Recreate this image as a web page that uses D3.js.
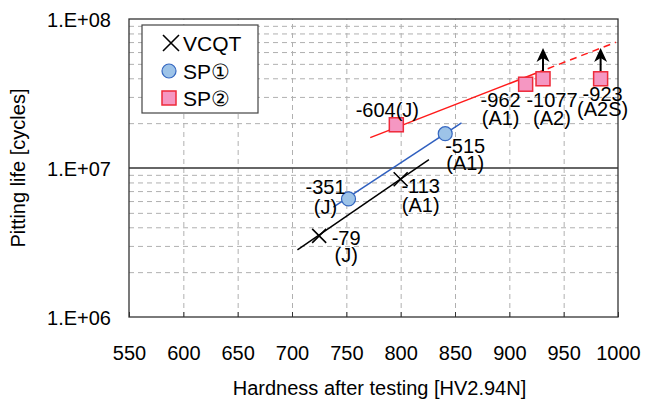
<!DOCTYPE html>
<html>
<head>
<meta charset="utf-8">
<script src="https://cdn.jsdelivr.net/npm/d3@7"></script>
<style>
  body { margin: 0; background: #fff; }
  text { font-family: "Liberation Sans", Arial, sans-serif; fill: #000; }
</style>
</head>
<body>
<div id="chart"></div>
<script>
// ---------- DATA ----------
var xTicks = [550, 600, 650, 700, 750, 800, 850, 900, 950, 1000]
var yTicks = [1e6, 1e7, 1e8]
var yTickLabels = ['1.E+06', '1.E+07', '1.E+08']

var seriesNames = ['VCQT', 'SP\u2460', 'SP\u2461']

// hardness, pitting life
var vcqtHv = [725, 800]
var vcqtLife = [3.5e6, 8.4e6]
var vcqtLabels = [['-79', '(J)'], ['-113', '(A1)']]

var sp1Hv = [752, 841]
var sp1Life = [6.2e6, 1.7e7]
var sp1Labels = [['-351', '(J)'], ['-515', '(A1)']]

var sp2Hv = [796, 915, 931, 984]
var sp2Life = [1.95e7, 3.65e7, 3.97e7, 3.97e7]
var sp2Labels = [['-604(J)'], ['-962', '(A1)'], ['-1077', '(A2)'], ['-923', '(A2S)']]
var sp2Runout = [false, false, true, true]   // still running -> arrow up
var arrowTopLife = 6.4e7

// fitted lines (end points)
var vcqtFitHv = [705, 826]
var vcqtFitLife = [2.82e6, 1.14e7]
var sp1FitHv = [738, 856]
var sp1FitLife = [5.47e6, 2.01e7]
var sp2FitHv = [772, 925]
var sp2FitLife = [1.6e7, 4.34e7]
var sp2ExtHv = [925, 998]
var sp2ExtLife = [4.34e7, 6.98e7]

// ---------- LAYOUT ----------
var W = 645, H = 401
var pL = 129, pR = 618, pT = 19, pB = 317

var svg = d3.select('#chart').append('svg')
    .attr('width', W)
    .attr('height', H)

var x = d3.scaleLinear().domain([550, 1000]).range([pL, pR])
var y = d3.scaleLog().domain([1e6, 1e8]).range([pB, pT])

var gridColor = '#b0b0b0'

// minor horizontal grid (2..9 in each decade)
var minorY = []
;[1e6, 1e7].forEach(function(d){
    for (var k = 2; k <= 9; k++) minorY.push(d * k)
})
svg.append('g')
    .attr('transform', 'translate(' + pL + ',0)')
    .call(d3.axisLeft(y).tickValues(minorY).tickSize(-(pR - pL)).tickFormat(''))
    .call(function(g){
        g.select('.domain').remove()
        g.selectAll('line').attr('stroke', gridColor).attr('stroke-dasharray', '5,4')
    })

// vertical grid
svg.append('g')
    .attr('transform', 'translate(0,' + pB + ')')
    .call(d3.axisBottom(x).tickValues(xTicks.slice(1, -1)).tickSize(-(pB - pT)).tickFormat(''))
    .call(function(g){
        g.select('.domain').remove()
        g.selectAll('line').attr('stroke', gridColor).attr('stroke-dasharray', '5,4')
    })

// major line at 1e7
svg.append('line')
    .attr('x1', pL).attr('x2', pR)
    .attr('y1', y(1e7)).attr('y2', y(1e7))
    .attr('stroke', '#333').attr('stroke-width', 1.3)

// x axis: inward ticks, labels
var xAxis = svg.append('g')
    .attr('transform', 'translate(0,' + pB + ')')
    .call(d3.axisBottom(x).tickValues(xTicks).tickSize(-5).tickPadding(0).tickFormat(d3.format('d')))
xAxis.select('.domain').remove()
xAxis.selectAll('line').attr('stroke', '#333')
xAxis.selectAll('text')
    .attr('y', 43).attr('dy', 0)
    .style('font-size', '20px')
    .attr('font-family', null)

// y axis labels
var yAxis = svg.append('g')
    .attr('transform', 'translate(' + pL + ',0)')
    .call(d3.axisLeft(y).tickValues(yTicks).tickSize(0)
        .tickFormat(function(d, i){ return yTickLabels[i] }))
yAxis.select('.domain').remove()
yAxis.selectAll('text')
    .attr('x', -18).attr('dy', '0.36em')
    .style('font-size', '20px')
    .attr('font-family', null)

// plot frame
svg.append('rect')
    .attr('x', pL).attr('y', pT)
    .attr('width', pR - pL).attr('height', pB - pT)
    .attr('fill', 'none').attr('stroke', '#333').attr('stroke-width', 1.3)

// axis titles
svg.append('text')
    .attr('x', (pL + pR) / 2 + 6).attr('y', 395)
    .attr('text-anchor', 'middle')
    .style('font-size', '20px')
    .text('Hardness after testing [HV2.94N]')

svg.append('text')
    .attr('transform', 'translate(25,' + ((pT + pB) / 2) + ') rotate(-90)')
    .attr('text-anchor', 'middle')
    .style('font-size', '20px')
    .text('Pitting life [cycles]')

// ---------- LINES ----------
var line = d3.line()
    .x(function(d){ return x(d[0]) })
    .y(function(d){ return y(d[1]) })

function drawFit(hv, life, color, dash){
    svg.append('path')
        .datum(d3.zip(hv, life))
        .attr('d', line)
        .attr('fill', 'none')
        .attr('stroke', color)
        .attr('stroke-width', 1.5)
        .attr('stroke-dasharray', dash || null)
}
drawFit(vcqtFitHv, vcqtFitLife, '#000')
drawFit(sp1FitHv, sp1FitLife, '#2f5fbf')
drawFit(sp2FitHv, sp2FitLife, '#ff1a1a')
drawFit(sp2ExtHv, sp2ExtLife, '#ff1a1a', '7,5')

// ---------- MARKERS ----------
function crossPath(cx, cy, s){
    return 'M' + (cx - s) + ',' + (cy - s) + 'L' + (cx + s) + ',' + (cy + s) +
           'M' + (cx - s) + ',' + (cy + s) + 'L' + (cx + s) + ',' + (cy - s)
}

svg.selectAll('.vcqt')
    .data(d3.zip(vcqtHv, vcqtLife))
    .enter()
    .append('path')
        .attr('d', function(d){ return crossPath(x(d[0]), y(d[1]), 7) })
        .attr('stroke', '#000').attr('stroke-width', 1.6).attr('fill', 'none')

svg.selectAll('.sp1')
    .data(d3.zip(sp1Hv, sp1Life))
    .enter()
    .append('circle')
        .attr('cx', function(d){ return x(d[0]) })
        .attr('cy', function(d){ return y(d[1]) })
        .attr('r', 7)
        .attr('fill', '#9dc3e8').attr('stroke', '#3567c0').attr('stroke-width', 1.2)

// arrows for run-outs
var sq = 14
d3.zip(sp2Hv, sp2Life, sp2Runout).forEach(function(d){
    if (!d[2]) return
    var cx = x(d[0]), y0 = y(d[1]) - sq / 2, y1 = y(arrowTopLife)
    svg.append('line')
        .attr('x1', cx).attr('x2', cx)
        .attr('y1', y0).attr('y2', y1 + 8)
        .attr('stroke', '#000').attr('stroke-width', 2)
    svg.append('path')
        .attr('d', 'M' + cx + ',' + y1 + 'L' + (cx + 6.5) + ',' + (y1 + 14) +
                   'L' + cx + ',' + (y1 + 10) + 'L' + (cx - 6.5) + ',' + (y1 + 14) + 'Z')
        .attr('fill', '#000')
})

svg.selectAll('.sp2')
    .data(d3.zip(sp2Hv, sp2Life))
    .enter()
    .append('rect')
        .attr('x', function(d){ return x(d[0]) - sq / 2 })
        .attr('y', function(d){ return y(d[1]) - sq / 2 })
        .attr('width', sq).attr('height', sq)
        .attr('fill', '#f597c2').attr('stroke', '#ee2a3a').attr('stroke-width', 1.5)

// ---------- DATA LABELS ----------
// offsets from the marker centre: [dx, dy of first baseline, line gap]
var vcqtLabelPos = [[27, 9, 17], [20, 14, 19]]
var sp1LabelPos = [[-23, -5, 20], [20, 19, 17]]
var sp2LabelPos = [[-9, -8, 0], [-25, 23, 18], [9, 28, 18], [2, 22, 15]]

function drawLabels(hv, life, labels, pos){
    labels.forEach(function(lines, i){
        var t = svg.append('text')
            .attr('text-anchor', 'middle')
            .style('font-size', '20px')
        lines.forEach(function(s, j){
            t.append('tspan')
                .attr('x', x(hv[i]) + pos[i][0])
                .attr('y', y(life[i]) + pos[i][1] + j * pos[i][2])
                .text(s)
        })
    })
}
drawLabels(vcqtHv, vcqtLife, vcqtLabels, vcqtLabelPos)
drawLabels(sp1Hv, sp1Life, sp1Labels, sp1LabelPos)
drawLabels(sp2Hv, sp2Life, sp2Labels, sp2LabelPos)

// ---------- LEGEND ----------
var lg = svg.append('g')
lg.append('rect')
    .attr('x', 142).attr('y', 25).attr('width', 116).attr('height', 88)
    .attr('fill', '#fff').attr('stroke', '#444').attr('stroke-width', 1.2)

var legY = [43, 71, 98]
var mx = 169
lg.append('path')
    .attr('d', crossPath(mx + 2, legY[0], 8))
    .attr('stroke', '#000').attr('stroke-width', 1.6)
lg.append('circle')
    .attr('cx', mx).attr('cy', legY[1]).attr('r', 7)
    .attr('fill', '#9dc3e8').attr('stroke', '#3567c0').attr('stroke-width', 1.2)
lg.append('rect')
    .attr('x', mx - 7).attr('y', legY[2] - 7).attr('width', 14).attr('height', 14)
    .attr('fill', '#f597c2').attr('stroke', '#ee2a3a').attr('stroke-width', 1.5)

lg.selectAll('.legText')
    .data(seriesNames)
    .enter()
    .append('text')
        .attr('x', 183)
        .attr('y', function(d, i){ return legY[i] })
        .attr('dy', '0.36em')
        .style('font-size', '21px')
        .text(function(d){ return d })
</script>
</body>
</html>
